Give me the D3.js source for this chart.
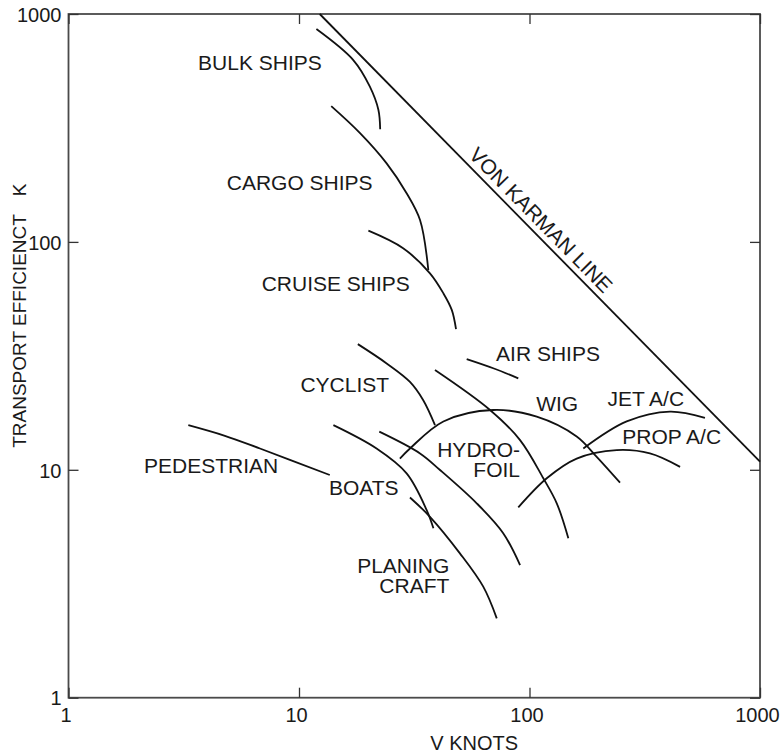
<!DOCTYPE html>
<html>
<head>
<meta charset="utf-8">
<script src="https://cdn.jsdelivr.net/npm/d3@7"></script>
<style>
  html, body { margin: 0; padding: 0; background: #fff; }
  svg text { font-family: "Liberation Sans", Arial, Helvetica, sans-serif; fill: #1a1a1a; }
</style>
</head>
<body>
<svg id="chart" width="780" height="754"></svg>
<script>
// ---- Data (V in knots, K transport efficiency) ----
const xTicks = [1, 10, 100, 1000];
const yTicks = [1, 10, 100, 1000];
const xTitle = "V KNOTS";
const yTitle = "TRANSPORT EFFICIENCT";
const yTitleUnit = "K";

const vonKarman   = [[12.3, 1000], [1000, 10.85]];
const bulkShips   = [[11.9, 859], [17.2, 628], [20.3, 480], [22.1, 380], [22.5, 312]];
const cargoShips  = [[13.8, 394], [18.4, 300], [24.0, 221], [29.3, 163.5], [33.5, 124.7], [36.4, 75.3]];
const cruiseShips = [[20.0, 112], [28.3, 93.8], [37.0, 72.8], [42.3, 59.5], [46.0, 50.3], [48.0, 41.4]];
const airShips    = [[53.4, 30.6], [69.6, 27.9], [89.4, 25.2]];
const cyclist     = [[18.0, 35.6], [24.0, 29.3], [30.3, 24.3], [34.6, 20.2], [38.9, 15.7]];
const pedestrian  = [[3.31, 15.7], [4.77, 14.1], [6.77, 12.4], [13.6, 9.49]];
const boats       = [[14.1, 15.7], [21.7, 12.4], [29.3, 9.65], [35.8, 6.66], [38.3, 5.54]];
const planing     = [[30.3, 7.56], [37.0, 6.22], [49.9, 4.30], [63.0, 3.07], [72.1, 2.23]];
const hydrofoilA  = [[22.3, 14.7], [33.5, 11.8], [40.9, 9.98], [59.0, 7.13], [76.9, 5.27], [91.0, 3.82]];
const hydrofoilB  = [[38.9, 27.4], [67.4, 18.3], [91.0, 13.5], [114.8, 9.18], [131.3, 7.13], [147.4, 5.01]];
const wig         = [[27.4, 11.2], [30.3, 12.4], [42.3, 16.3], [69.6, 18.3], [107.5, 17.1], [160.2, 14.0], [195.7, 11.4], [247, 8.78]];
const jetAC       = [[171.2, 12.4], [264, 16.3], [407, 18.0], [577, 16.9]];
const propAC      = [[89.4, 6.84], [118.8, 9.18], [160.2, 11.2], [238.8, 12.2], [333, 11.8], [450, 10.3]];

const curves = [bulkShips, cargoShips, cruiseShips, airShips, cyclist, pedestrian, boats,
                planing, hydrofoilA, hydrofoilB, wig, jetAC, propAC];

// label anchor points in data units
const labelNames   = ["BULK SHIPS", "CARGO SHIPS", "CRUISE SHIPS", "CYCLIST", "PEDESTRIAN", "BOATS",
                      "PLANING", "CRAFT", "HYDRO-", "FOIL", "AIR SHIPS", "WIG", "JET A/C", "PROP A/C"];
const labelV       = [6.77, 10.07, 14.44, 15.8, 4.16, 19.1, 44.9, 44.9, 91.0, 91.0, 120.3, 131.9, 319.6, 414];
const labelK       = [568, 169, 60.9, 22.0, 9.68, 7.75, 3.53, 2.88, 11.4, 9.27, 30.1, 18.2, 19.05, 13.0];
const labelAnchor  = ["middle", "middle", "middle", "middle", "middle", "middle",
                      "end", "end", "end", "end", "middle", "middle", "middle", "middle"];
const vonKarmanLabel = "VON KARMAN LINE";
const vonKarmanLabelV = 102;

// ---- Layout ----
const L = 68.5, R = 760, T = 14, B = 697.7;

const svg = d3.select("#chart");
const x = d3.scaleLog().domain([1, 1000]).range([L, R]);
const y = d3.scaleLog().domain([1, 1000]).range([B, T]);

// frame
svg.append("rect")
  .attr("x", L).attr("y", T).attr("width", R - L).attr("height", B - T)
  .attr("fill", "none").attr("stroke", "#4a4a4a").attr("stroke-width", 1.8);

const fmt = d => String(d);
const tickLen = 10;

const gB = svg.append("g").attr("transform", `translate(0,${B})`)
  .call(d3.axisBottom(x).tickValues(xTicks).tickFormat(fmt).tickSizeInner(-tickLen).tickSizeOuter(0));
const gT = svg.append("g").attr("transform", `translate(0,${T})`)
  .call(d3.axisTop(x).tickValues(xTicks).tickFormat("").tickSizeInner(-tickLen).tickSizeOuter(0));
const gL = svg.append("g").attr("transform", `translate(${L},0)`)
  .call(d3.axisLeft(y).tickValues(yTicks).tickFormat(fmt).tickSizeInner(-tickLen).tickSizeOuter(0));
const gR = svg.append("g").attr("transform", `translate(${R},0)`)
  .call(d3.axisRight(y).tickValues(yTicks).tickFormat("").tickSizeInner(-tickLen).tickSizeOuter(0));

[gB, gT, gL, gR].forEach(g => {
  g.select(".domain").remove();
  g.selectAll(".tick line").attr("stroke", "#333").attr("stroke-width", 1.3);
});
gB.selectAll(".tick text")
  .attr("y", 24).attr("dy", 0).attr("dx", -3)
  .attr("font-size", 20).attr("fill", "#1a1a1a")
  .style("font-family", '"Liberation Sans", Arial, sans-serif');
gL.selectAll(".tick text")
  .attr("x", -7).attr("dy", "0.36em")
  .attr("font-size", 20).attr("fill", "#1a1a1a")
  .style("font-family", '"Liberation Sans", Arial, sans-serif');

// curves
const line = d3.line().x(d => x(d[0])).y(d => y(d[1])).curve(d3.curveCatmullRom.alpha(0.5));
svg.append("g").selectAll("path").data(curves).join("path")
  .attr("d", line).attr("fill", "none").attr("stroke", "#111").attr("stroke-width", 1.8);

// von Karman line
svg.append("path").attr("d", d3.line().x(d => x(d[0])).y(d => y(d[1]))(vonKarman))
  .attr("fill", "none").attr("stroke", "#111").attr("stroke-width", 1.8);

// von Karman label
{
  const p0 = [x(vonKarman[0][0]), y(vonKarman[0][1])];
  const p1 = [x(vonKarman[1][0]), y(vonKarman[1][1])];
  const ang = Math.atan2(p1[1] - p0[1], p1[0] - p0[0]);
  const t = (x(vonKarmanLabelV) - p0[0]) / (p1[0] - p0[0]);
  const px = x(vonKarmanLabelV), py = p0[1] + t * (p1[1] - p0[1]);
  const off = 6;
  const nx = Math.sin(ang) * off, ny = -Math.cos(ang) * off;
  svg.append("text")
    .attr("transform", `translate(${px + nx},${py + ny}) rotate(${ang * 180 / Math.PI})`)
    .attr("text-anchor", "middle").attr("font-size", 21)
    .text(vonKarmanLabel);
}

// curve labels
svg.append("g").selectAll("text").data(labelNames).join("text")
  .attr("x", (d, i) => x(labelV[i]))
  .attr("y", (d, i) => y(labelK[i]))
  .attr("text-anchor", (d, i) => labelAnchor[i])
  .attr("font-size", 21)
  .text(d => d);

// axis titles
svg.append("text")
  .attr("x", (L + R) / 2 + 60).attr("y", 750)
  .attr("text-anchor", "middle").attr("font-size", 20)
  .text(xTitle);

svg.append("text")
  .attr("transform", `translate(26,${y(10) - 22}) rotate(-90)`)
  .attr("text-anchor", "start").attr("font-size", 19)
  .text(yTitle);
svg.append("text")
  .attr("transform", `translate(26,${y(100) - 52}) rotate(-90)`)
  .attr("text-anchor", "middle").attr("font-size", 19)
  .text(yTitleUnit);
</script>
</body>
</html>
